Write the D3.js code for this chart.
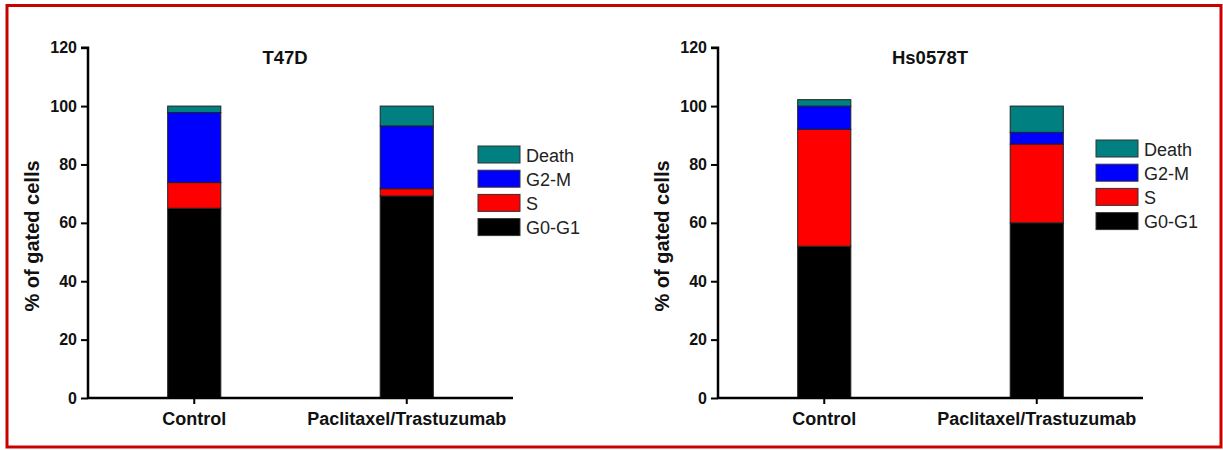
<!DOCTYPE html>
<html>
<head>
<meta charset="utf-8">
<script src="https://cdn.jsdelivr.net/npm/d3@7"></script>
<style>
  body { margin: 0; background: #fff; }
  svg { display: block; font-family: Arial, "Liberation Sans", sans-serif; }
</style>
</head>
<body>
<svg id="chart" width="1223" height="450"></svg>
<script>
// categories and phases
const categories = ["Control", "Paclitaxel/Trastuzumab"];
const phases = ["G0-G1", "S", "G2-M", "Death"];
const yTicks = [0, 20, 40, 60, 80, 100, 120];

// T47D values (% of gated cells)
const t47dG0G1 = [65, 69.2];
const t47dS = [8.8, 2.5];
const t47dG2M = [24, 21.5];
const t47dDeath = [2.2, 6.8];

// Hs0578T values
const hsG0G1 = [52, 60];
const hsS = [40, 27];
const hsG2M = [8, 4];
const hsDeath = [2.2, 9];

const phaseColors = ["#000000", "#ff0000", "#0000ff", "#008080"];

const svg = d3.select("svg#chart");

// red frame round everything
svg.append("rect")
    .attr("x", 7).attr("y", 5.5)
    .attr("width", 1214).attr("height", 441.5)
    .attr("fill", "none")
    .attr("stroke", "#c80000")
    .attr("stroke-width", 3);

const yScale = d3.scaleLinear().domain([0, 120]).range([398, 47.7]);
const color = d3.scaleOrdinal().domain(phases).range(phaseColors);

function buildRows(g0, s, g2, death) {
    return categories.map((c, i) => ({
        cat: c, "G0-G1": g0[i], "S": s[i], "G2-M": g2[i], "Death": death[i]
    }));
}

function drawPanel(opts) {
    const g = svg.append("g").attr("transform", `translate(${opts.left},0)`);
    const axisLen = 425;

    const xScale = d3.scaleBand()
        .domain(categories)
        .range([0, axisLen])
        .paddingInner(0.75)
        .paddingOuter(0.375);

    const stacked = d3.stack().keys(phases)(opts.rows);

    g.selectAll("g.layer")
        .data(stacked)
        .enter()
        .append("g")
        .attr("class", "layer")
        .attr("fill", d => color(d.key))
        .selectAll("rect")
        .data(d => d)
        .enter()
        .append("rect")
        .attr("x", d => xScale(d.data.cat))
        .attr("width", xScale.bandwidth())
        .attr("y", d => yScale(d[1]))
        .attr("height", d => yScale(d[0]) - yScale(d[1]))
        .attr("stroke", "#222")
        .attr("stroke-width", 1);

    // y axis
    const yAxis = g.append("g")
        .call(d3.axisLeft(yScale).tickValues(yTicks).tickSize(7).tickPadding(4));
    yAxis.select(".domain").attr("stroke-width", 2.5).attr("d", `M-7,${yScale(120)}H0V${yScale(0)}`);
    yAxis.selectAll(".tick line").attr("stroke-width", 2);
    yAxis.selectAll(".tick text")
        .attr("font-size", 16).attr("font-weight", "bold").attr("fill", "#111")
        .attr("font-family", "Arial, 'Liberation Sans', sans-serif");

    // x axis
    const xAxis = g.append("g")
        .attr("transform", `translate(0,${yScale(0)})`)
        .call(d3.axisBottom(xScale).tickSize(6).tickPadding(8));
    xAxis.select(".domain").attr("stroke-width", 2.5).attr("d", `M0,0H${axisLen}`);
    xAxis.selectAll(".tick line").attr("stroke-width", 2);
    xAxis.selectAll(".tick text")
        .attr("font-size", 18).attr("font-weight", "bold").attr("fill", "#111")
        .attr("font-family", "Arial, 'Liberation Sans', sans-serif");

    // title
    g.append("text")
        .attr("x", opts.titleX).attr("y", 64)
        .attr("text-anchor", "middle")
        .attr("font-size", 18.5).attr("font-weight", "bold").attr("fill", "#111")
        .text(opts.title);

    // y label
    g.append("text")
        .attr("transform", `translate(-49,236) rotate(-90)`)
        .attr("text-anchor", "middle")
        .attr("font-size", 20).attr("font-weight", "bold").attr("fill", "#111")
        .text("% of gated cells");

    // legend, Death on top
    const legend = g.append("g")
        .attr("transform", `translate(${opts.legendX},${opts.legendY})`);
    const items = legend.selectAll("g")
        .data(phases.slice().reverse())
        .enter()
        .append("g")
        .attr("transform", (d, i) => `translate(0,${i * 24.2})`);
    items.append("rect")
        .attr("width", 42).attr("height", 17)
        .attr("fill", d => color(d))
        .attr("stroke", "#333").attr("stroke-width", 1);
    items.append("text")
        .attr("x", 48).attr("y", 15.5)
        .attr("font-size", 18).attr("fill", "#222")
        .text(d => d);
}

drawPanel({
    left: 88, title: "T47D", titleX: 197,
    legendX: 390, legendY: 146,
    rows: buildRows(t47dG0G1, t47dS, t47dG2M, t47dDeath)
});

drawPanel({
    left: 718, title: "Hs0578T", titleX: 212,
    legendX: 378, legendY: 140,
    rows: buildRows(hsG0G1, hsS, hsG2M, hsDeath)
});
</script>
</body>
</html>
